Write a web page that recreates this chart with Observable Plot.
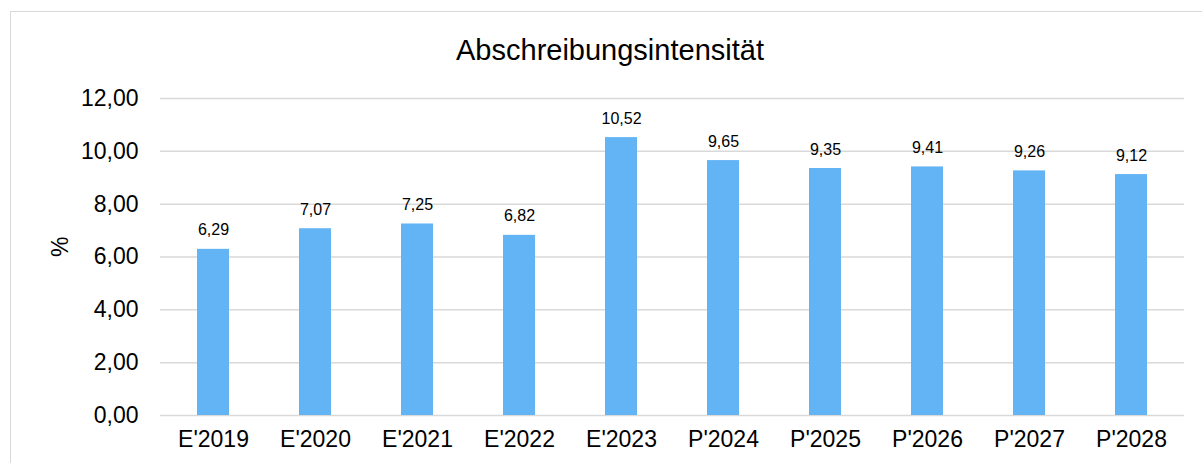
<!DOCTYPE html>
<html>
<head>
<meta charset="utf-8">
<script src="https://cdn.jsdelivr.net/npm/d3@7"></script>
<script src="https://cdn.jsdelivr.net/npm/@observablehq/plot@0.6"></script>
<style>
  html, body { margin: 0; padding: 0; background: #fff; }
  #wrap { position: relative; width: 1202px; height: 463px; overflow: hidden; font-family: "Liberation Sans", Arial, sans-serif; }
  #border { position: absolute; left: 10px; top: 11px; width: 1300px; height: 600px; border: 1.5px solid #d9d9d9; box-sizing: border-box; }
  #title { position: absolute; left: 0; width: 1220px; top: 36px; line-height: 1; text-align: center; font-size: 29px; color: #000; }
  #chart { position: absolute; left: 0; top: 0; }
</style>
</head>
<body>
<div id="wrap">
  <div id="border"></div>
  <div id="chart"></div>
  <div id="title">Abschreibungsintensität</div>
</div>
<script>
const categories = ["E'2019","E'2020","E'2021","E'2022","E'2023","P'2024","P'2025","P'2026","P'2027","P'2028"];
const values = [6.29, 7.07, 7.25, 6.82, 10.52, 9.65, 9.35, 9.41, 9.26, 9.12];
const yTicks = [0, 2, 4, 6, 8, 10, 12];

const data = categories.map((c, i) => ({cat: c, v: values[i]}));
const fmt = v => d3.format(".2f")(v).replace(".", ",");

const chart = Plot.plot({
  width: 1202,
  height: 463,
  marginLeft: 160,
  marginRight: 18,
  marginTop: 98,
  marginBottom: 48,
  style: {fontFamily: "Liberation Sans, Arial, sans-serif", background: "transparent", color: "#000"},
  x: {domain: categories, paddingInner: 0.6875, paddingOuter: 0.34375, label: null},
  y: {domain: [0, 12], label: null},
  marks: [
    Plot.ruleY(yTicks, {stroke: "#d9d9d9", strokeWidth: 1.5}),
    Plot.barY(data, {x: "cat", y: "v", fill: "#63b4f5"}),
    Plot.text(data, {x: "cat", y: "v", text: d => fmt(d.v), lineAnchor: "bottom", dy: -14, fontSize: 16, fill: "#000"}),
    Plot.axisY({ticks: yTicks, tickFormat: fmt, tickSize: 0, tickPadding: 22, fontSize: 23, label: null}),
    Plot.axisX({tickSize: 0, tickPadding: 15, fontSize: 23, label: null}),
    Plot.text(["%"], {frameAnchor: "left", dx: -100, rotate: -90, fontSize: 23, fill: "#000"})
  ]
});
document.getElementById("chart").appendChild(chart);
</script>
</body>
</html>
